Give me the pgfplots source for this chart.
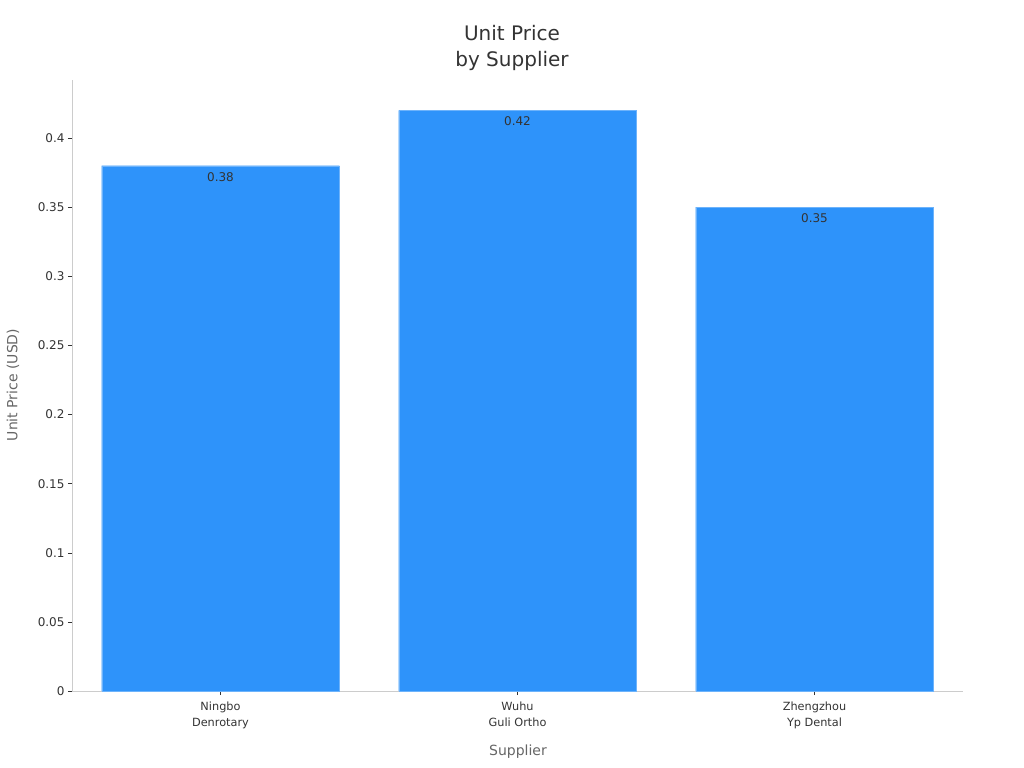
\documentclass[border=0pt]{standalone}
\usepackage{pgfplots}
\pgfplotsset{compat=1.18}
\usepackage{fontspec}
\setmainfont{DejaVu Sans}
\definecolor{barblue}{HTML}{2E93FA}
\definecolor{txt}{HTML}{333333}
\definecolor{lbl}{HTML}{666666}
\definecolor{spine}{HTML}{CCCCCC}

\begin{document}
\begin{tikzpicture}
\path[use as bounding box] (-72bp,-77bp) rectangle (952bp,691bp);
\begin{axis}[
  at={(0,0)}, anchor=south west,
  scale only axis,
  width=891bp, height=611bp,
  xmin=-0.5, xmax=2.5,
  ymin=0, ymax=0.442,
  axis lines*=left,
  axis line style={spine},
  tick style={txt, thin},
  tick align=outside,
  major tick length=4bp,
  xtick=data,
  xticklabels={{Ningbo\\Denrotary},{Wuhu\\Guli Ortho},{Zhengzhou\\Yp Dental}},
  xticklabel style={align=center, font=\fontsize{11.3bp}{16bp}\selectfont, text=txt, yshift=-3bp},
  ytick={0,0.05,...,0.41},
  yticklabel style={font=\fontsize{12bp}{14bp}\selectfont, text=txt, /pgf/number format/fixed, /pgf/number format/precision=2},
  /pgf/number format/assume math mode=true,
  xlabel={Supplier},
  ylabel={Unit Price (USD)},
  xlabel style={font=\fontsize{14bp}{16bp}\selectfont, text=lbl, at={(446bp,-61bp)}, anchor=center},
  ylabel style={font=\fontsize{14bp}{16bp}\selectfont, text=lbl, at={(-59bp,306bp)}, rotate=0, anchor=center},
  title={Unit Price\\by Supplier},
  title style={align=center, font=\fontsize{20bp}{26bp}\selectfont, text=txt, at={(440bp,637bp)}, anchor=center},
  ybar, bar width=0.8,
  nodes near coords,
  nodes near coords style={anchor=north, font=\fontsize{12bp}{14bp}\selectfont, text=txt, /pgf/number format/fixed, /pgf/number format/precision=2, yshift=-3bp},
]
\addplot[fill=barblue, draw=barblue!70!white] coordinates {(0,0.38) (1,0.42) (2,0.35)};
\end{axis}
\end{tikzpicture}
\end{document}
